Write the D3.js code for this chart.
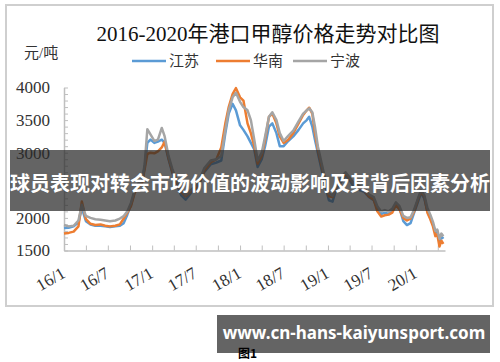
<!DOCTYPE html>
<html>
<head>
<meta charset="utf-8">
<script src="https://cdn.jsdelivr.net/npm/d3@7"></script>
<style>
  body { margin: 0; background: #fff; }
  .serif { font-family: "Liberation Serif", "Times New Roman", "Noto Sans CJK SC", serif; }
</style>
</head>
<body>
<svg id="chart" width="500" height="362"></svg>
<script>
const dates = [
  "2016-01-01","2016-01-20","2016-02-10","2016-03-01","2016-03-15","2016-04-01","2016-04-20","2016-05-10",
  "2016-06-01","2016-06-20","2016-07-10","2016-08-01","2016-08-20","2016-09-05","2016-09-20","2016-10-05",
  "2016-10-20","2016-11-05","2016-11-20","2016-12-01","2016-12-12","2016-12-25","2017-01-10","2017-01-25",
  "2017-02-10","2017-02-22","2017-03-10","2017-03-25","2017-04-15","2017-05-01","2017-05-20","2017-06-15",
  "2017-07-10","2017-08-05","2017-09-01","2017-09-25","2017-10-15","2017-11-01","2017-11-15","2017-12-01",
  "2017-12-15","2018-01-01","2018-01-15","2018-02-01","2018-02-15","2018-03-01","2018-03-15","2018-04-01",
  "2018-04-15","2018-05-01","2018-05-15","2018-06-01","2018-06-15","2018-07-01","2018-07-20","2018-08-10",
  "2018-09-01","2018-09-20","2018-10-05","2018-10-15","2018-10-28","2018-11-08","2018-11-20","2018-12-05",
  "2018-12-20","2019-01-05","2019-01-20","2019-02-05","2019-02-25","2019-03-15","2019-04-01","2019-04-20",
  "2019-05-10","2019-06-01","2019-06-20","2019-07-10","2019-07-25","2019-08-10","2019-08-25","2019-09-10",
  "2019-09-25","2019-10-10","2019-10-25","2019-11-10","2019-11-25","2019-12-10","2019-12-25","2020-01-10",
  "2020-01-22","2020-02-05","2020-02-18","2020-03-01","2020-03-12","2020-03-22","2020-03-30","2020-04-08",
  "2020-04-16","2020-04-24"
];

// 江苏
const jiangsu = [
  1845,1850,1870,1930,2150,1950,1900,1880,
  1880,1870,1860,1870,1880,1920,2050,2200,
  2400,2500,2550,2780,3150,3200,3150,3170,
  3200,3150,2900,2700,2500,2350,2280,2400,
  2470,2700,2820,2850,2880,3300,3600,3750,
  3650,3420,3350,3250,3150,3050,2780,2900,
  3100,3400,3450,3300,3100,3100,3180,3250,
  3350,3450,3500,3550,3400,3200,3000,2750,
  2500,2270,2250,2450,2550,2650,2580,2470,
  2430,2400,2320,2270,2150,2060,2080,2060,
  2110,2200,2150,1950,1890,1920,2080,2250,
  2380,2300,2100,2000,1900,1780,1800,1620,
  1720,1680
];

// 华南
const huanan = [
  1760,1770,1790,1870,2250,1980,1910,1890,
  1900,1880,1870,1880,1900,1990,2080,2180,
  2380,2480,2530,2750,2980,3000,2990,3020,
  3080,3170,2920,2720,2520,2400,2330,2420,
  2480,2720,2850,2900,3080,3450,3700,3900,
  3990,3850,3800,3450,3300,3100,2830,2950,
  3200,3550,3600,3450,3250,3150,3200,3300,
  3450,3580,3650,3690,3600,3300,3050,2800,
  2580,2330,2320,2480,2600,2680,2600,2520,
  2470,2420,2330,2280,2100,2020,2040,2050,
  2080,2200,2130,2000,1960,1990,2100,2280,
  2400,2330,2080,1980,1870,1720,1750,1560,
  1650,1600
];

// 宁波
const ningbo = [
  1890,1870,1880,1960,2200,2030,2000,1980,
  1970,1960,1950,1960,1990,2030,2100,2230,
  2420,2530,2570,2820,3360,3280,3180,3200,
  3380,3250,2950,2760,2550,2430,2350,2440,
  2520,2760,2880,2900,2950,3350,3650,3850,
  3920,3780,3700,3650,3500,3200,2880,3000,
  3250,3550,3620,3500,3300,3180,3260,3340,
  3480,3600,3650,3680,3620,3400,3100,2850,
  2600,2380,2340,2500,2620,2700,2620,2520,
  2490,2450,2360,2320,2180,2100,2120,2100,
  2140,2240,2180,2030,2000,2010,2130,2300,
  2420,2350,2150,2050,1940,1800,1820,1680,
  1760,1720
];

const seriesNames = ["江苏", "华南", "宁波"];
const seriesColors = ["#5b9bd5", "#ed7d31", "#a5a5a5"];
// 2500 sits under the banner in the original, so it carries no visible label
const yTickValues = [1500, 2000, 3000, 3500, 4000];
const xTickLabels = ["16/1","16/7","17/1","17/7","18/1","18/7","19/1","19/7","20/1"];

const svg = d3.select("#chart");
const sans = "'Noto Sans CJK SC', 'Noto Sans', sans-serif";

// chart frame
svg.append("rect")
  .attr("x", 6).attr("y", 5)
  .attr("width", 487).attr("height", 301)
  .attr("fill", "#fff")
  .attr("stroke", "#cfcfcf")
  .attr("stroke-width", 2);

// title
svg.append("text")
  .attr("class", "serif")
  .attr("x", 268).attr("y", 41)
  .attr("text-anchor", "middle")
  .style("font-size", "21px")
  .attr("fill", "#111")
  .text("2016-2020年港口甲醇价格走势对比图");

// unit label
svg.append("text")
  .attr("class", "serif")
  .attr("x", 24).attr("y", 58)
  .style("font-size", "15px")
  .attr("fill", "#333")
  .text("元/吨");

// legend
const legendX = [132, 216, 293];
seriesNames.forEach((name, i) => {
  const g = svg.append("g").attr("transform", "translate(" + legendX[i] + ",61)");
  g.append("line")
    .attr("x1", 0).attr("x2", 34)
    .attr("y1", 0).attr("y2", 0)
    .attr("stroke", seriesColors[i])
    .attr("stroke-width", 2.5);
  g.append("text")
    .attr("x", 37).attr("y", 5)
    .style("font-family", sans)
    .style("font-size", "15px")
    .attr("fill", "#333")
    .text(name);
});

// scales
const parse = d3.timeParse("%Y-%m-%d");
const x = d3.scaleTime()
  .domain([new Date(2016, 0, 1), new Date(2020, 4, 1)])
  .range([64, 445]);
const y = d3.scaleLinear()
  .domain([1500, 4000])
  .range([250.5, 87.5]);

// y axis: minor ticks every 100, labels every 500
const yMinor = d3.range(1500, 4001, 100);
const yAxis = d3.axisLeft(y)
  .tickValues(yMinor)
  .tickSizeInner(-4)
  .tickSizeOuter(0)
  .tickPadding(14)
  .tickFormat(d => yTickValues.includes(d) ? d : "");
const gy = svg.append("g").attr("transform", "translate(64,0)").call(yAxis);
gy.attr("font-family", null);
gy.select(".domain").attr("stroke", "#bfbfbf").attr("stroke-width", 1.5);
gy.selectAll(".tick line").attr("stroke", "#bfbfbf");
gy.selectAll(".tick text")
  .attr("class", "serif")
  .style("font-size", "17px")
  .attr("fill", "#333");

// x axis: ticks every 3 months, labels every 6
const xTicks = d3.timeMonth.range(new Date(2016, 0, 1), new Date(2020, 4, 2), 3);
const xAxis = d3.axisBottom(x)
  .tickValues(xTicks)
  .tickSizeInner(-5)
  .tickSizeOuter(0)
  .tickFormat((d, i) => i % 2 === 0 ? (xTickLabels[i / 2] || "") : "");
const gx = svg.append("g").attr("transform", "translate(0,250.5)").call(xAxis);
gx.attr("font-family", null);
gx.select(".domain").attr("stroke", "#bfbfbf").attr("stroke-width", 1.5);
gx.selectAll(".tick line").attr("stroke", "#bfbfbf");
gx.selectAll(".tick text")
  .attr("class", "serif")
  .style("font-size", "17px")
  .attr("fill", "#333")
  .attr("text-anchor", "end")
  .attr("y", 0).attr("dy", 0)
  .attr("transform", "translate(2,26) rotate(-30)");

// lines
const line = d3.line()
  .x(d => x(d.date))
  .y(d => y(d.value));
[jiangsu, huanan, ningbo].forEach((vals, i) => {
  const data = dates.map((s, j) => ({ date: parse(s), value: vals[j] }));
  svg.append("path")
    .datum(data)
    .attr("fill", "none")
    .attr("stroke", seriesColors[i])
    .attr("stroke-width", 2.5)
    .attr("stroke-linejoin", "round")
    .attr("d", line);
});

// overlay banner
svg.append("rect")
  .attr("x", 10).attr("y", 150)
  .attr("width", 480).attr("height", 61)
  .attr("fill", "rgba(40,40,40,0.72)");
svg.append("text")
  .attr("x", 250).attr("y", 191)
  .attr("text-anchor", "middle")
  .style("font-family", sans)
  .style("font-size", "20px")
  .style("font-weight", "bold")
  .attr("fill", "#fff")
  .text("球员表现对转会市场价值的波动影响及其背后因素分析");

// url box
svg.append("rect")
  .attr("x", 217).attr("y", 315)
  .attr("width", 273).attr("height", 38)
  .attr("fill", "rgba(40,40,40,0.72)");
svg.append("text")
  .attr("x", 354).attr("y", 339)
  .attr("text-anchor", "middle")
  .style("font-family", "'Noto Sans', sans-serif")
  .style("font-size", "17px")
  .style("font-weight", "bold")
  .attr("fill", "#fff")
  .text("www.cn-hans-kaiyunsport.com");

svg.append("text")
  .attr("x", 238).attr("y", 358)
  .style("font-family", sans)
  .style("font-size", "12px")
  .style("font-weight", "bold")
  .attr("fill", "#000")
  .text("图1");
</script>
</body>
</html>
